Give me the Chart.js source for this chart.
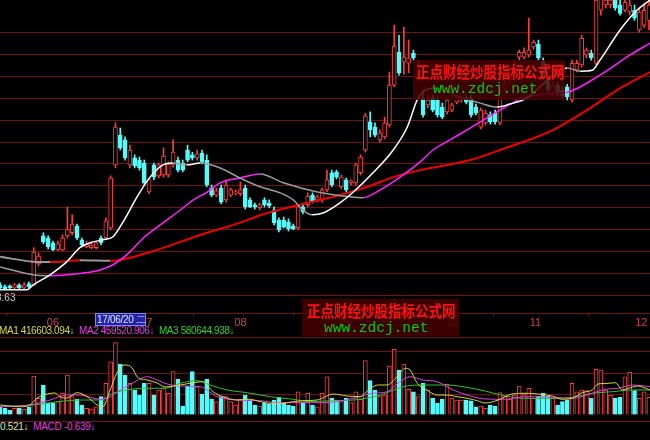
<!DOCTYPE html>
<html>
<head>
<meta charset="utf-8">
<title>K线</title>
<script src="https://cdn.jsdelivr.net/npm/chart.js"></script>
<style>
  html, body { margin: 0; padding: 0; background: #000; }
  #wrap { position: relative; width: 650px; height: 440px; background: #000; overflow: hidden; font-family: "Liberation Sans", Arial, sans-serif; }
  .abs { position: absolute; }
  #priceBox { left: 0; top: 0; width: 650px; height: 330px; }
  #volBox { left: 0; top: 337px; width: 650px; height: 78px; }
  .sep { left: 0; width: 650px; height: 1px; background: #6e1414; }
  .lbl { font-size: 10px; white-space: nowrap; }
  .wm { background: rgba(70, 0, 0, 0.85); }
  .wm .cn { color: #ff1010; font-family: "Noto Sans CJK SC", sans-serif; font-weight: bold; font-size: 13.5px; line-height: 16px; white-space: nowrap; transform: scaleY(1.15); transform-origin: left top; }
  .wm .en { color: #00d000; font-family: "Liberation Mono", monospace; font-size: 14.5px; line-height: 14px; white-space: nowrap; }
  #cursorDate { left: 95px; top: 313px; width: 48px; height: 11px; background: #2323a8; border: 1px solid #8080ff; color: #e0e0ff; font-size: 10px; line-height: 11px; text-align: left; padding-left: 1px; box-sizing: content-box; white-space: nowrap; letter-spacing: -0.3px; }
</style>
</head>
<body>
<div id="wrap">
  <div id="priceBox" class="abs"><canvas id="price" width="650" height="330"></canvas></div>
  <div id="volBox" class="abs"><canvas id="vol" width="650" height="78"></canvas></div>
  <div class="abs sep" style="top:421px"></div>

  <div class="abs lbl" style="left:-4px;top:292px;color:#c8c8c8">8.63</div>
  <div id="cursorDate" class="abs">17/06/20 二</div>

  <div class="abs lbl" style="left:-1px;top:325px;letter-spacing:-0.4px">
    <span style="color:#d8d840">MA1 416603.094↓</span>&nbsp;
    <span style="color:#e040e0">MA2 459520.906↓</span>&nbsp;
    <span style="color:#30d030">MA3 580644.938↓</span>
  </div>
  <div class="abs lbl" style="left:0;top:421px;letter-spacing:-0.3px">
    <span style="color:#e0e0a0">0.521↓</span>&nbsp;
    <span style="color:#e040e0">MACD -0.639↓</span>
  </div>

  <div class="abs wm" style="left:413px;top:60px;width:152px;height:40px">
    <div class="cn" style="margin:2px 0 0 3px">正点财经炒股指标公式网</div>
    <div class="en" style="margin:4px 0 0 20px">www.zdcj.net</div>
  </div>
  <div class="abs wm" style="left:302px;top:299px;width:157px;height:37px">
    <div class="cn" style="margin:2px 0 0 5px">正点财经炒股指标公式网</div>
    <div class="en" style="margin:4px 0 0 22px">www.zdcj.net</div>
  </div>
</div>

<script>
// daily candles, prices in yuan
const opens = [8.74,8.70,8.72,8.67,8.74,8.67,8.77,8.74,9.22,9.86,
  9.81,9.70,9.54,9.54,9.86,9.93,10.09,9.77,9.61,9.59,
  9.59,9.81,9.81,10.04,11.48,12.16,12.05,11.48,11.64,11.59,
  11.52,10.86,11.48,11.23,11.25,11.25,11.48,11.59,11.52,11.82,
  11.71,11.64,11.75,11.59,10.95,10.79,10.95,10.68,10.79,10.84,
  10.82,10.95,10.68,10.57,10.50,10.68,10.61,10.45,10.22,10.22,
  10.18,10.09,10.04,10.52,10.57,10.79,10.68,10.68,10.91,11.30,
  11.32,10.98,11.14,11.07,11.07,11.30,11.82,12.46,12.34,12.05,
  12.12,12.39,13.30,14.05,13.83,13.80,14.03,13.53,13.01,12.85,
  13.01,12.96,12.80,12.69,12.73,12.91,12.96,13.01,13.01,12.80,
  12.34,12.44,12.62,12.66,12.44,13.23,13.42,13.60,13.94,13.94,
  13.99,14.17,14.24,13.83,13.42,13.14,13.30,13.19,13.26,12.96,
  13.64,13.76,13.99,14.03,13.80,15.01,15.13,15.13,15.24,15.13,
  15.01,14.97,15.01,14.56,14.67,14.78];
const highs = [8.79,8.74,8.74,8.77,8.77,8.79,8.81,9.59,9.47,9.93,
  9.86,9.74,9.74,9.88,10.52,10.34,10.13,9.81,9.74,9.70,
  9.74,9.86,10.27,11.23,12.44,12.32,12.12,11.93,11.71,11.66,
  11.59,11.18,11.52,11.52,11.87,11.55,12.05,11.66,11.59,11.93,
  11.77,11.82,11.82,11.71,11.02,10.95,11.02,11.14,10.95,10.91,
  11.09,11.02,10.73,10.61,10.61,10.73,10.68,10.52,10.27,10.29,
  10.25,10.13,10.57,10.57,10.84,10.84,10.79,10.95,11.36,11.36,
  11.36,11.25,11.18,11.14,11.52,11.71,12.66,12.69,12.44,12.28,
  12.57,13.60,14.67,14.44,14.62,14.33,14.10,13.87,13.19,13.07,
  13.07,13.03,12.89,13.01,12.89,13.07,13.05,13.07,13.07,12.87,
  12.78,12.73,12.69,12.73,13.19,13.42,13.64,13.87,14.10,14.15,
  14.83,14.33,14.33,13.92,13.53,13.37,13.37,13.26,13.32,13.87,
  13.87,14.44,14.15,14.10,15.70,15.35,15.35,15.31,15.35,15.35,
  15.35,15.31,15.13,15.06,15.17,15.35];
const lows = [8.65,8.63,8.65,8.65,8.65,8.65,8.67,8.72,9.17,9.68,
  9.56,9.52,9.52,9.52,9.81,9.88,9.77,9.61,9.59,9.56,
  9.56,9.65,9.77,10.00,11.41,11.82,11.59,11.41,11.41,11.36,
  11.02,10.82,11.14,11.18,11.20,11.20,11.43,11.32,11.32,11.55,
  11.59,11.59,11.50,10.98,10.75,10.75,10.59,10.63,10.75,10.79,
  10.77,10.47,10.50,10.47,10.45,10.52,10.50,10.11,9.95,10.04,
  9.97,10.00,10.00,10.36,10.52,10.61,10.63,10.63,10.86,10.98,
  11.16,10.93,10.86,11.02,11.02,11.25,11.77,12.12,12.12,12.00,
  12.07,12.34,13.26,13.53,13.55,13.58,13.87,13.42,12.57,12.78,
  12.69,12.57,12.53,12.64,12.69,12.87,12.91,12.87,12.57,12.62,
  12.30,12.39,12.41,12.41,12.39,13.14,13.30,13.53,13.87,13.90,
  13.94,14.12,13.87,13.42,13.14,13.07,13.05,13.01,12.96,12.91,
  13.60,13.71,13.92,13.87,13.76,14.90,15.06,15.06,15.01,14.90,
  14.97,14.90,14.78,14.51,14.62,14.56];
const closes = [8.67,8.65,8.67,8.74,8.67,8.74,8.70,9.49,9.40,9.72,
  9.61,9.54,9.68,9.81,10.00,10.13,9.81,9.65,9.68,9.65,
  9.70,9.70,10.20,11.18,12.34,11.87,11.64,11.82,11.46,11.41,
  11.07,11.14,11.20,11.48,11.68,11.50,11.77,11.36,11.36,11.59,
  11.64,11.73,11.55,11.02,10.79,10.89,10.63,11.02,10.91,10.86,
  10.91,10.52,10.52,10.52,10.57,10.57,10.54,10.16,10.00,10.06,
  10.02,10.02,10.52,10.41,10.77,10.66,10.75,10.91,11.14,11.02,
  11.20,11.20,10.91,11.11,11.48,11.66,12.60,12.28,12.16,12.21,
  12.44,13.30,14.19,13.58,13.94,13.92,13.92,13.64,12.62,12.96,
  12.73,12.62,12.57,12.96,12.85,13.03,13.01,12.91,12.62,12.66,
  12.73,12.66,12.46,12.46,13.03,13.35,13.58,13.76,14.05,14.05,
  14.10,14.28,13.92,13.46,13.19,13.30,13.10,13.05,13.03,13.80,
  13.80,14.37,14.10,13.92,15.24,15.31,15.24,15.24,15.06,14.94,
  15.19,15.13,14.83,14.97,15.01,15.13];
// volume, 万手
const volumes = [13.8,11.2,8.3,11.2,11.2,9.5,13.8,65.0,27.8,50.0,
  19.5,19.5,22.2,36.2,66.7,30.5,26.2,16.7,11.2,10.0,
  13.8,30.5,52.8,88.8,120.5,85.0,66.7,52.8,41.7,33.3,
  52.8,52.8,33.3,41.7,44.5,36.2,72.2,59.5,15.0,48.3,
  72.2,47.2,35.0,59.5,26.2,22.2,30.5,30.5,22.2,16.7,
  26.2,33.3,23.8,16.7,15.0,19.5,18.3,25.0,29.5,19.5,
  16.7,15.0,38.8,20.5,36.2,16.7,13.8,36.2,63.8,28.3,
  25.0,22.2,28.3,20.5,38.8,26.2,90.5,57.2,41.7,31.7,
  33.3,81.7,109.5,75.0,85.0,42.8,38.8,30.5,52.8,41.7,
  28.3,19.5,26.2,51.2,28.3,25.0,25.0,25.0,23.8,13.8,
  15.0,11.2,16.7,15.0,37.2,30.5,26.2,33.3,48.3,35.0,
  44.5,28.3,31.7,36.2,31.7,27.8,16.7,22.2,25.0,52.8,
  38.8,41.7,40.5,27.8,76.2,75.0,41.7,33.3,28.3,29.5,
  63.8,71.2,40.5,27.8,38.8,29.5];

// moving average lines (bar index, value)
const maShortPos = [0,5.6,6.9,10.4,13.9,16.6,18.7,21.4,23.5,25.6,28.5,31.2,33.9,36,38.9,41.6,45.8,49.9,54.1,58.3,61,63,64.9,67.2,70.7,73.5,77.6,81.8,84.7,87,90.5,94.7,99.9,103.4,106.1,109.7,114.4,118,120.7,123.2,124.8,129,132.5,135.2];
const maShortVal = [8.63,8.63,8.74,8.97,9.27,9.59,9.70,9.77,9.84,10.18,10.75,11.20,11.48,11.52,11.48,11.52,11.41,11.18,10.98,10.84,10.68,10.45,10.34,10.38,10.61,10.86,11.30,11.82,12.34,13.01,13.23,13.07,12.89,12.80,12.87,13.01,13.46,13.69,13.62,13.64,13.87,14.56,15.01,15.24];
const maMidPos = [0,6.9,10.4,13.9,18.1,20.8,23.5,26.4,29.8,33.3,37.5,40.2,43.1,45.8,49.9,54.1,58.9,66,72.8,75.5,79.1,83.2,87.4,90.1,93.6,97.8,104,108.8,113.4,118,124.8,131.1,135.2];
const maMidVal = [9.15,8.97,8.95,8.97,9.02,9.08,9.20,9.43,9.81,10.11,10.45,10.68,10.86,11.07,11.18,11.27,11.07,10.86,10.75,10.73,10.91,11.20,11.55,11.82,12.05,12.32,12.73,13.01,13.10,13.14,13.53,13.99,14.26];
const maLongPos = [0,6.9,10.4,16.6,22.9,31.2,41.6,48.5,55.6,62.4,69.3,76.4,81.8,87.4,97.8,104,115.1,122.1,129,135.2];
const maLongVal = [9.38,9.27,9.26,9.30,9.29,9.49,9.88,10.11,10.38,10.57,10.75,10.98,11.20,11.36,11.59,11.82,12.28,12.73,13.23,13.60];

const vma1Pos = [0,4.2,6.2,7.7,9.8,11.4,12.5,13.9,16,18.1,20.2,21.4,22.9,24.3,26,27.5,28.5,30.6,32.7,34.3,37.5,40.2,42.2,44.3,46.4,49.3,52,54.1,56.2,58.3,61,63,66,69.3,72.2,74.9,77,78.7,80.5,82.6,84.3,85.3,86.8,88.8,90.9,93,95.1,97.2,99.3,100.9,103.6,106.5,109.2,111.9,114.9,116.9,119,121.1,123.2,124.4,126.5,128,129.5,130.7,132.7,135.2];
const vma1Val = [16.7,13.8,16.7,28.3,35,36.7,30,28.3,37.2,30.5,16.7,13.8,41.7,70,83.4,78.3,63.8,58.3,53.3,46.7,50,53.8,55.5,38.8,30.5,25,26.2,22.2,19.5,19.5,22.2,23.8,25,35,31.7,30.5,44.5,50,50,63.8,77.8,75,52.8,41.7,33.3,33.3,30.5,27.8,23.8,20,25,35,36.2,35,31.7,26.2,27.8,37.2,41.7,51.7,52.8,53.8,41.7,44.5,48.3,41.7];
const vma2Pos = [0,6.2,10.4,13.9,16.6,20.8,22.9,25,27.7,30.6,32.7,34.3,37.5,41.6,45.2,49.3,54.1,57.6,62.4,67.6,73.5,77.6,80.5,83.2,85.3,88,90.9,94.3,97.8,100.9,105.1,109.2,114.9,119,123.2,125.9,128.6,131.5,135.2];
const vma2Val = [13.8,16.7,25,33.3,33.3,26.2,30.5,41.7,53.8,63.8,58.3,52.8,48.3,47.2,30.5,25,23.8,20.5,20.5,20.5,27.8,36.2,38.8,55.5,63.8,58.3,55.5,41.7,31.7,26.7,26.2,30.5,29.5,27.8,36.2,42.8,44.5,50,47.2];
const vma3Pos = [0,6.9,11.9,17.3,20.8,23.5,26.4,29.8,34.3,37.5,41,43.7,47.2,51.4,56.2,61,64.5,67.6,73.5,79.1,83.9,87.4,93,96.3,100.9,105.1,109.2,114.9,119,123.2,127.3,131.5,135.2];
const vma3Val = [13.8,16.7,22.2,25,25,36.2,41.7,44.5,44.5,52.8,57.2,50,41.7,37.2,30.5,26.2,22.2,23.3,25,33.3,47.2,50,50,47.2,40,31.7,27.8,27.8,29.5,36.2,38.8,41.7,41.7];

const monthPos = [11, 30.4, 50, 72, 94.1, 111.4, 133.4];
const monthLabels = ['06', '07', '08', '09', '10', '11', '12'];

const RED = '#ff3c3c', CYAN = '#54fcfc', GRID = '#6e1414', FALL = '#9a9a9a';
const X_MIN = -0.02, X_MAX = 135.22;
const idx = opens.map((_, i) => i);
const up = i => closes[i] >= opens[i];

function maLine(pos, val, color, width) {
  return {
    type: 'line',
    data: pos.map((x, k) => ({ x, y: val[k] })),
    borderColor: color,
    borderWidth: width,
    pointRadius: 0,
    cubicInterpolationMode: 'monotone',
    segment: { borderColor: ctx => ctx.p1.parsed.y < ctx.p0.parsed.y ? FALL : color },
    order: 0
  };
}
function volLine(pos, val, color) {
  return {
    type: 'line',
    data: pos.map((x, k) => ({ x, y: val[k] })),
    borderColor: color,
    borderWidth: 1,
    pointRadius: 0,
    cubicInterpolationMode: 'monotone',
    order: 0
  };
}

const common = {
  responsive: false,
  animation: false,
  events: [],
  layout: { padding: 0 },
  plugins: { legend: { display: false }, tooltip: { enabled: false } }
};

new Chart(document.getElementById('price'), {
  type: 'bar',
  data: {
    datasets: [
      maLine(maShortPos, maShortVal, '#ffffff', 1.5),
      maLine(maMidPos, maMidVal, '#ff20ff', 1.5),
      maLine(maLongPos, maLongVal, '#ee0000', 2),
      {
        data: idx.map(i => ({ x: i, y: [opens[i], closes[i]] })),
        backgroundColor: idx.map(i => up(i) ? '#000' : CYAN),
        borderColor: idx.map(i => up(i) ? RED : CYAN),
        borderWidth: 1, borderSkipped: false, barThickness: 4, minBarLength: 1,
        grouped: false, order: 1
      },
      {
        data: idx.map(i => ({ x: i, y: [lows[i], highs[i]] })),
        backgroundColor: idx.map(i => up(i) ? RED : CYAN),
        barThickness: 1, grouped: false, order: 2
      }
    ]
  },
  options: {
    ...common,
    scales: {
      x: {
        type: 'linear', min: X_MIN, max: X_MAX, offset: false,
        grid: { drawOnChartArea: false, drawTicks: true, tickLength: 3, color: GRID },
        border: { display: true, color: GRID },
        ticks: { color: '#c84848', font: { size: 11, family: 'Liberation Sans' }, padding: 0, maxRotation: 0, autoSkip: false,
                 callback: (v, i) => monthLabels[i] },
        afterBuildTicks: s => { s.ticks = monthPos.map(v => ({ value: v })); },
        afterFit: s => { s.height = 17; }
      },
      y: {
        min: 8.098, max: 15.244,
        grid: { color: GRID, drawTicks: false },
        border: { display: false },
        ticks: { display: false, stepSize: 0.5 },
        afterBuildTicks: s => { s.ticks = s.ticks.filter(t => Math.abs(t.value * 2 - Math.round(t.value * 2)) < 1e-6); },
        afterFit: s => { s.width = 0; }
      }
    }
  }
});

new Chart(document.getElementById('vol'), {
  type: 'bar',
  data: {
    datasets: [
      volLine(vma1Pos, vma1Val, '#d8d840'),
      volLine(vma2Pos, vma2Val, '#e040e0'),
      volLine(vma3Pos, vma3Val, '#30c030'),
      {
        data: idx.map(i => ({ x: i, y: volumes[i] })),
        backgroundColor: idx.map(i => up(i) ? '#000' : CYAN),
        borderColor: idx.map(i => up(i) ? RED : CYAN),
        borderWidth: 1, barThickness: 4, grouped: false, order: 1
      }
    ]
  },
  options: {
    ...common,
    scales: {
      x: { type: 'linear', min: X_MIN, max: X_MAX, offset: false, display: false },
      y: {
        min: 0, max: 130,
        grid: { color: GRID, drawTicks: false },
        border: { display: false },
        ticks: { display: false, stepSize: 35 },
        afterFit: s => { s.width = 0; }
      }
    }
  }
});
</script>
</body>
</html>
